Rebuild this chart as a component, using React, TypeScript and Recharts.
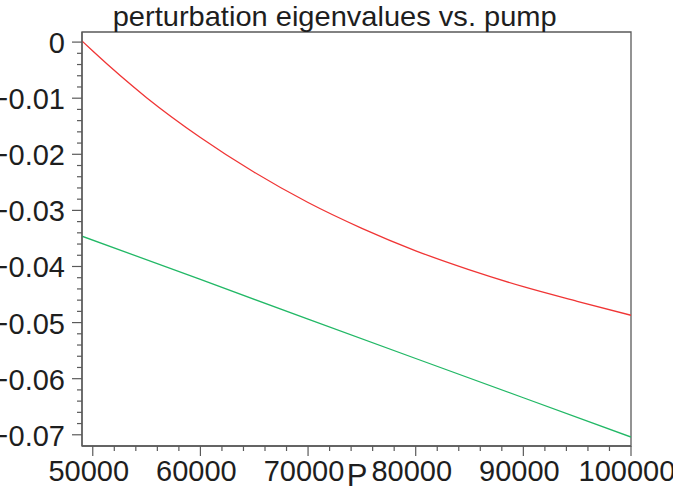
import { Line, LineChart, ReferenceArea, XAxis, YAxis } from "recharts";

// red eigenvalue branch
const pumpRed = [49000, 50000, 55000, 60000, 65000, 70000, 75000, 80000, 85000, 90000, 95000, 100000];
const eigRed = [0.0002, -0.0016, -0.0099, -0.017, -0.0232, -0.0286, -0.0332, -0.0372, -0.0406, -0.0436, -0.0462, -0.0487];

// green eigenvalue branch (straight line)
const pumpGreen = [49000, 60000, 70000, 80000, 90000, 100000];
const eigGreen = [-0.0346, -0.0423, -0.0494, -0.0564, -0.0634, -0.0704];

const xMajorTicks = [50000, 60000, 70000, 80000, 90000, 100000];
const yMajorTicks = [0, -0.01, -0.02, -0.03, -0.04, -0.05, -0.06, -0.07];

const xAllTicks = Array.from({ length: 26 }, (_, i) => 50000 + i * 2000);
const yAllTicks = Array.from({ length: 36 }, (_, i) => Number((-i * 0.002).toFixed(3)));

const redData = pumpRed.map((p, i) => ({ p, v: eigRed[i] }));
const greenData = pumpGreen.map((p, i) => ({ p, v: eigGreen[i] }));

const AXIS = "#5a5a5a";
const FONT = "'Liberation Sans', Arial, Helvetica, sans-serif";
const TXT = "#1e1e1e";

function XTick(props: any) {
  const { x, y, payload } = props;
  const v = payload.value as number;
  const major = xMajorTicks.includes(v);
  return (
    <g>
      <line x1={x} x2={x} y1={y} y2={y + (major ? 10 : 5)} stroke={AXIS} strokeWidth={1.2} />
      {major && (
        <text x={x - 4} y={y + 35} textAnchor="middle" fontFamily={FONT} fontSize={29} fill={TXT}>
          {v}
        </text>
      )}
    </g>
  );
}

function YTick(props: any) {
  const { x, y, payload } = props;
  const v = payload.value as number;
  const major = yMajorTicks.some((m) => Math.abs(m - v) < 1e-9);
  const label = Math.abs(v) < 1e-9 ? "0" : "\u2212" + Math.abs(v).toFixed(2);
  return (
    <g>
      <line x1={x - (major ? 10 : 5)} x2={x} y1={y} y2={y} stroke={AXIS} strokeWidth={1.2} />
      {major && (
        <text x={x - 17} y={y + 11} textAnchor="end" fontFamily={FONT} fontSize={29} fill={TXT}>
          {label}
        </text>
      )}
    </g>
  );
}

export default function App() {
  return (
    <div style={{ position: "absolute", left: 0, top: 0, width: 673, height: 487, background: "#fff" }}>
      <LineChart width={673} height={487} margin={{ top: 32, right: 42, bottom: 0, left: 0 }}>
        <XAxis
          dataKey="p"
          type="number"
          domain={[49000, 100000]}
          ticks={xAllTicks}
          interval={0}
          tick={<XTick />}
          tickLine={false}
          tickSize={0}
          tickMargin={0}
          height={41}
          axisLine={{ stroke: AXIS, strokeWidth: 1.3 }}
          allowDataOverflow
        />
        <YAxis
          dataKey="v"
          type="number"
          domain={[-0.072, 0.0018]}
          ticks={yAllTicks}
          interval={0}
          tick={<YTick />}
          tickLine={false}
          tickSize={0}
          tickMargin={0}
          width={82}
          axisLine={{ stroke: AXIS, strokeWidth: 1.3 }}
          allowDataOverflow
        />
        <ReferenceArea
          x1={49000}
          x2={100000}
          y1={-0.072}
          y2={0.0018}
          fill="none"
          stroke={AXIS}
          strokeWidth={1.3}
          fillOpacity={0}
        />
        <Line
          data={redData}
          dataKey="v"
          type="monotone"
          stroke="#f03535"
          strokeWidth={1.3}
          dot={false}
          isAnimationActive={false}
        />
        <Line
          data={greenData}
          dataKey="v"
          type="linear"
          stroke="#22b866"
          strokeWidth={1.3}
          dot={false}
          isAnimationActive={false}
        />
      </LineChart>
      <svg
        width={673}
        height={487}
        style={{ position: "absolute", left: 0, top: 0, pointerEvents: "none" }}
      >
        <text
          x={334.7}
          y={26}
          textAnchor="middle"
          fontFamily={FONT}
          fontSize={28}
          fill={TXT}
          textLength={444}
          lengthAdjust="spacingAndGlyphs"
        >
          perturbation eigenvalues vs. pump
        </text>
        <text x={357} y={486} textAnchor="middle" fontFamily={FONT} fontSize={31} fill={TXT}>
          P
        </text>
      </svg>
    </div>
  );
}
